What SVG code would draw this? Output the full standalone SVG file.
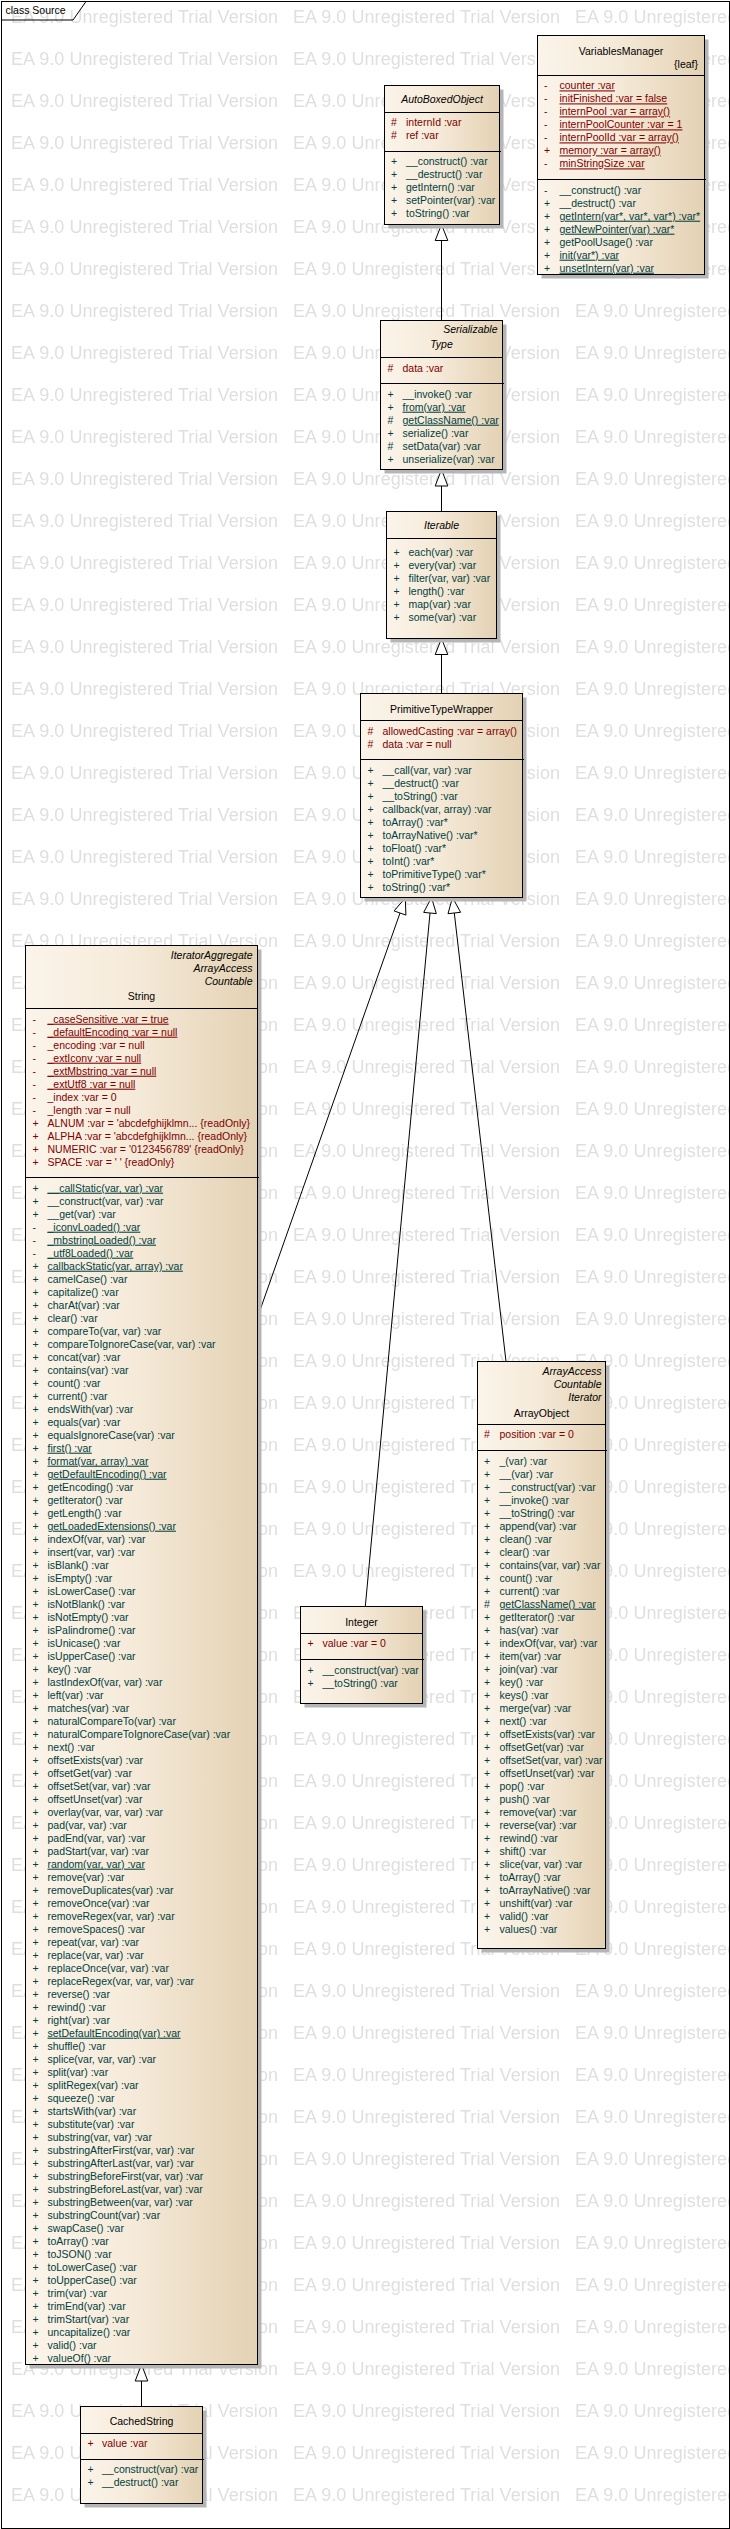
<svg xmlns="http://www.w3.org/2000/svg" width="730" height="2529" viewBox="0 0 730 2529">
<style>
text{font-family:"Liberation Sans",Arial,sans-serif;font-size:10.5px;white-space:pre}
.wm{font-size:18px;fill:#dfdfdf}
.box{fill:url(#cg);stroke:#000;stroke-width:1}
.sh{fill:#b5b5b5}
.dv{stroke:#000;stroke-width:1;fill:none}
.t{fill:#000;text-anchor:middle}
.ti{fill:#000;text-anchor:middle;font-style:italic}
.st{fill:#000;text-anchor:end;font-style:italic}
.lf{fill:#000;text-anchor:end}
.a{fill:#800000}
.o{fill:#004040}
.u{text-decoration:underline}
.ln{stroke:#000;stroke-width:1;fill:none}
.tri{fill:#fff;stroke:#000;stroke-width:1}
</style>
<defs>
<linearGradient id="cg" x1="0" y1="0" x2="1" y2="0">
<stop offset="0" stop-color="#fbf4ea"/>
<stop offset="0.45" stop-color="#f6ebda"/>
<stop offset="1" stop-color="#e3d1b3"/>
</linearGradient>
<pattern id="wmp" patternUnits="userSpaceOnUse" x="0" y="0" width="282" height="42">
<text class="wm" x="11" y="22.5" textLength="267">EA 9.0 Unregistered Trial Version</text>
</pattern>
</defs>
<rect width="730" height="2529" fill="#fff"/>
<rect width="730" height="2529" fill="url(#wmp)"/>

<g id="frame">
<rect x="1.5" y="1.5" width="728" height="2527" class="dv"/>
<polyline points="1.5,20 73,20 86,1.5" class="dv"/>
<text x="5.5" y="14" fill="#000">class Source</text>
</g>

<g id="connectors">
<line x1="441.5" y1="240.5" x2="441.5" y2="320.5" class="ln"/>
<polygon points="441.5,224.5 447.8,240.5 435.2,240.5" class="tri"/>
<line x1="441.5" y1="486" x2="441.5" y2="511.5" class="ln"/>
<polygon points="441.5,469.5 447.8,486 435.2,486" class="tri"/>
<line x1="441.5" y1="654.5" x2="441.5" y2="693.5" class="ln"/>
<polygon points="441.5,638.5 447.8,654.5 435.2,654.5" class="tri"/>
<line x1="400" y1="913" x2="257.5" y2="1317.4" class="ln"/>
<polygon points="405.3,897.9 405.9,915.1 394.1,910.9" class="tri"/>
<line x1="430" y1="913" x2="365.3" y2="1606.5" class="ln"/>
<polygon points="431.5,897.5 436.3,913.6 423.7,912.4" class="tri"/>
<line x1="454.3" y1="913" x2="506" y2="1361.5" class="ln"/>
<polygon points="452.5,897.5 460.6,912.3 448,913.7" class="tri"/>
<line x1="141.5" y1="2381" x2="141.5" y2="2406.5" class="ln"/>
<polygon points="141.5,2364.5 147.8,2381 135.2,2381" class="tri"/>
</g>

<g id="VariablesManager">
<rect x="541.5" y="39.5" width="167" height="239" class="sh"/>
<rect x="537.5" y="35.5" width="167" height="239" class="box"/>
<line x1="537.5" y1="75.5" x2="704.5" y2="75.5" class="dv"/>
<line x1="537.5" y1="179.5" x2="706" y2="179.5" class="dv"/>
<text class="t" x="621" y="54.5">VariablesManager</text>
<text class="lf" x="698" y="67.5">{leaf}</text>
<text class="a" y="89.4"><tspan x="544">-</tspan><tspan x="559.5" class="u">counter :var</tspan></text>
<text class="a" y="102.4"><tspan x="544">-</tspan><tspan x="559.5" class="u">initFinished :var = false</tspan></text>
<text class="a" y="115.4"><tspan x="544">-</tspan><tspan x="559.5" class="u">internPool :var = array()</tspan></text>
<text class="a" y="128.4"><tspan x="544">-</tspan><tspan x="559.5" class="u">internPoolCounter :var = 1</tspan></text>
<text class="a" y="141.4"><tspan x="544">-</tspan><tspan x="559.5" class="u">internPoolId :var = array()</tspan></text>
<text class="a" y="154.4"><tspan x="544">+</tspan><tspan x="559.5" class="u">memory :var = array()</tspan></text>
<text class="a" y="167.4"><tspan x="544">-</tspan><tspan x="559.5" class="u">minStringSize :var</tspan></text>
<text class="o" y="193.7"><tspan x="544">-</tspan><tspan x="559.5">__construct() :var</tspan></text>
<text class="o" y="206.7"><tspan x="544">+</tspan><tspan x="559.5">__destruct() :var</tspan></text>
<text class="o" y="219.7"><tspan x="544">+</tspan><tspan x="559.5" class="u">getIntern(var*, var*, var*) :var*</tspan></text>
<text class="o" y="232.7"><tspan x="544">+</tspan><tspan x="559.5" class="u">getNewPointer(var) :var*</tspan></text>
<text class="o" y="245.7"><tspan x="544">+</tspan><tspan x="559.5">getPoolUsage() :var</tspan></text>
<text class="o" y="258.7"><tspan x="544">+</tspan><tspan x="559.5" class="u">init(var*) :var</tspan></text>
<text class="o" y="271.7"><tspan x="544">+</tspan><tspan x="559.5" class="u">unsetIntern(var) :var</tspan></text>
</g>

<g id="AutoBoxedObject">
<rect x="388.5" y="89.5" width="115" height="139" class="sh"/>
<rect x="384.5" y="85.5" width="115" height="139" class="box"/>
<line x1="384.5" y1="112.5" x2="499.5" y2="112.5" class="dv"/>
<line x1="384.5" y1="151.5" x2="501" y2="151.5" class="dv"/>
<text class="ti" x="442" y="103">AutoBoxedObject</text>
<text class="a" y="126.4"><tspan x="391">#</tspan><tspan x="406">internId :var</tspan></text>
<text class="a" y="139.4"><tspan x="391">#</tspan><tspan x="406">ref :var</tspan></text>
<text class="o" y="165.4"><tspan x="391">+</tspan><tspan x="406">__construct() :var</tspan></text>
<text class="o" y="178.4"><tspan x="391">+</tspan><tspan x="406">__destruct() :var</tspan></text>
<text class="o" y="191.4"><tspan x="391">+</tspan><tspan x="406">getIntern() :var</tspan></text>
<text class="o" y="204.4"><tspan x="391">+</tspan><tspan x="406">setPointer(var) :var</tspan></text>
<text class="o" y="217.4"><tspan x="391">+</tspan><tspan x="406">toString() :var</tspan></text>
</g>

<g id="Type">
<rect x="384.5" y="324.5" width="122" height="149" class="sh"/>
<rect x="380.5" y="320.5" width="122" height="149" class="box"/>
<line x1="380.5" y1="357.5" x2="502.5" y2="357.5" class="dv"/>
<line x1="380.5" y1="383.5" x2="504" y2="383.5" class="dv"/>
<text class="st" x="497.5" y="333.4">Serializable</text>
<text class="ti" x="441.5" y="348.4">Type</text>
<text class="a" y="371.7"><tspan x="387.5">#</tspan><tspan x="402.5">data :var</tspan></text>
<text class="o" y="397.7"><tspan x="387.5">+</tspan><tspan x="402.5">__invoke() :var</tspan></text>
<text class="o" y="410.7"><tspan x="387.5">+</tspan><tspan x="402.5" class="u">from(var) :var</tspan></text>
<text class="o" y="423.7"><tspan x="387.5">#</tspan><tspan x="402.5" class="u">getClassName() :var</tspan></text>
<text class="o" y="436.7"><tspan x="387.5">+</tspan><tspan x="402.5">serialize() :var</tspan></text>
<text class="o" y="449.7"><tspan x="387.5">#</tspan><tspan x="402.5">setData(var) :var</tspan></text>
<text class="o" y="462.7"><tspan x="387.5">+</tspan><tspan x="402.5">unserialize(var) :var</tspan></text>
</g>

<g id="Iterable">
<rect x="390.5" y="515.5" width="110" height="127" class="sh"/>
<rect x="386.5" y="511.5" width="110" height="127" class="box"/>
<line x1="386.5" y1="538.5" x2="496.5" y2="538.5" class="dv"/>
<text class="ti" x="441.5" y="529.4">Iterable</text>
<text class="o" y="556.4"><tspan x="393.5">+</tspan><tspan x="408.5">each(var) :var</tspan></text>
<text class="o" y="569.4"><tspan x="393.5">+</tspan><tspan x="408.5">every(var) :var</tspan></text>
<text class="o" y="582.4"><tspan x="393.5">+</tspan><tspan x="408.5">filter(var, var) :var</tspan></text>
<text class="o" y="595.4"><tspan x="393.5">+</tspan><tspan x="408.5">length() :var</tspan></text>
<text class="o" y="608.4"><tspan x="393.5">+</tspan><tspan x="408.5">map(var) :var</tspan></text>
<text class="o" y="621.4"><tspan x="393.5">+</tspan><tspan x="408.5">some(var) :var</tspan></text>
</g>

<g id="PrimitiveTypeWrapper">
<rect x="364.5" y="697.5" width="162" height="204" class="sh"/>
<rect x="360.5" y="693.5" width="162" height="204" class="box"/>
<line x1="360.5" y1="720.5" x2="522.5" y2="720.5" class="dv"/>
<line x1="360.5" y1="759.5" x2="524" y2="759.5" class="dv"/>
<text class="t" x="441.5" y="712.7">PrimitiveTypeWrapper</text>
<text class="a" y="734.7"><tspan x="367.5">#</tspan><tspan x="382.5">allowedCasting :var = array()</tspan></text>
<text class="a" y="747.7"><tspan x="367.5">#</tspan><tspan x="382.5">data :var = null</tspan></text>
<text class="o" y="773.7"><tspan x="367.5">+</tspan><tspan x="382.5">__call(var, var) :var</tspan></text>
<text class="o" y="786.7"><tspan x="367.5">+</tspan><tspan x="382.5">__destruct() :var</tspan></text>
<text class="o" y="799.7"><tspan x="367.5">+</tspan><tspan x="382.5">__toString() :var</tspan></text>
<text class="o" y="812.7"><tspan x="367.5">+</tspan><tspan x="382.5">callback(var, array) :var</tspan></text>
<text class="o" y="825.7"><tspan x="367.5">+</tspan><tspan x="382.5">toArray() :var*</tspan></text>
<text class="o" y="838.7"><tspan x="367.5">+</tspan><tspan x="382.5">toArrayNative() :var*</tspan></text>
<text class="o" y="851.7"><tspan x="367.5">+</tspan><tspan x="382.5">toFloat() :var*</tspan></text>
<text class="o" y="864.7"><tspan x="367.5">+</tspan><tspan x="382.5">toInt() :var*</tspan></text>
<text class="o" y="877.7"><tspan x="367.5">+</tspan><tspan x="382.5">toPrimitiveType() :var*</tspan></text>
<text class="o" y="890.7"><tspan x="367.5">+</tspan><tspan x="382.5">toString() :var*</tspan></text>
</g>

<g id="String">
<rect x="29.5" y="949.5" width="232" height="1419" class="sh"/>
<rect x="25.5" y="945.5" width="232" height="1419" class="box"/>
<line x1="25.5" y1="1008.5" x2="257.5" y2="1008.5" class="dv"/>
<line x1="25.5" y1="1177.5" x2="259" y2="1177.5" class="dv"/>
<text class="st" x="252.5" y="958.7">IteratorAggregate</text>
<text class="st" x="252.5" y="971.7">ArrayAccess</text>
<text class="st" x="252.5" y="984.7">Countable</text>
<text class="t" x="141.5" y="1000.4">String</text>
<text class="a" y="1022.7"><tspan x="32.5">-</tspan><tspan x="47.5" class="u">_caseSensitive :var = true</tspan></text>
<text class="a" y="1035.7"><tspan x="32.5">-</tspan><tspan x="47.5" class="u">_defaultEncoding :var = null</tspan></text>
<text class="a" y="1048.7"><tspan x="32.5">-</tspan><tspan x="47.5">_encoding :var = null</tspan></text>
<text class="a" y="1061.7"><tspan x="32.5">-</tspan><tspan x="47.5" class="u">_extIconv :var = null</tspan></text>
<text class="a" y="1074.7"><tspan x="32.5">-</tspan><tspan x="47.5" class="u">_extMbstring :var = null</tspan></text>
<text class="a" y="1087.7"><tspan x="32.5">-</tspan><tspan x="47.5" class="u">_extUtf8 :var = null</tspan></text>
<text class="a" y="1100.7"><tspan x="32.5">-</tspan><tspan x="47.5">_index :var = 0</tspan></text>
<text class="a" y="1113.7"><tspan x="32.5">-</tspan><tspan x="47.5">_length :var = null</tspan></text>
<text class="a" y="1126.7"><tspan x="32.5">+</tspan><tspan x="47.5">ALNUM :var = 'abcdefghijklmn... {readOnly}</tspan></text>
<text class="a" y="1139.7"><tspan x="32.5">+</tspan><tspan x="47.5">ALPHA :var = 'abcdefghijklmn... {readOnly}</tspan></text>
<text class="a" y="1152.7"><tspan x="32.5">+</tspan><tspan x="47.5">NUMERIC :var = '0123456789' {readOnly}</tspan></text>
<text class="a" y="1165.7"><tspan x="32.5">+</tspan><tspan x="47.5">SPACE :var = ' ' {readOnly}</tspan></text>
<text class="o" y="1191.7"><tspan x="32.5">+</tspan><tspan x="47.5" class="u">__callStatic(var, var) :var</tspan></text>
<text class="o" y="1204.7"><tspan x="32.5">+</tspan><tspan x="47.5">__construct(var, var) :var</tspan></text>
<text class="o" y="1217.7"><tspan x="32.5">+</tspan><tspan x="47.5">__get(var) :var</tspan></text>
<text class="o" y="1230.7"><tspan x="32.5">-</tspan><tspan x="47.5" class="u">_iconvLoaded() :var</tspan></text>
<text class="o" y="1243.7"><tspan x="32.5">-</tspan><tspan x="47.5" class="u">_mbstringLoaded() :var</tspan></text>
<text class="o" y="1256.7"><tspan x="32.5">-</tspan><tspan x="47.5" class="u">_utf8Loaded() :var</tspan></text>
<text class="o" y="1269.7"><tspan x="32.5">+</tspan><tspan x="47.5" class="u">callbackStatic(var, array) :var</tspan></text>
<text class="o" y="1282.7"><tspan x="32.5">+</tspan><tspan x="47.5">camelCase() :var</tspan></text>
<text class="o" y="1295.7"><tspan x="32.5">+</tspan><tspan x="47.5">capitalize() :var</tspan></text>
<text class="o" y="1308.7"><tspan x="32.5">+</tspan><tspan x="47.5">charAt(var) :var</tspan></text>
<text class="o" y="1321.7"><tspan x="32.5">+</tspan><tspan x="47.5">clear() :var</tspan></text>
<text class="o" y="1334.7"><tspan x="32.5">+</tspan><tspan x="47.5">compareTo(var, var) :var</tspan></text>
<text class="o" y="1347.7"><tspan x="32.5">+</tspan><tspan x="47.5">compareToIgnoreCase(var, var) :var</tspan></text>
<text class="o" y="1360.7"><tspan x="32.5">+</tspan><tspan x="47.5">concat(var) :var</tspan></text>
<text class="o" y="1373.7"><tspan x="32.5">+</tspan><tspan x="47.5">contains(var) :var</tspan></text>
<text class="o" y="1386.7"><tspan x="32.5">+</tspan><tspan x="47.5">count() :var</tspan></text>
<text class="o" y="1399.7"><tspan x="32.5">+</tspan><tspan x="47.5">current() :var</tspan></text>
<text class="o" y="1412.7"><tspan x="32.5">+</tspan><tspan x="47.5">endsWith(var) :var</tspan></text>
<text class="o" y="1425.7"><tspan x="32.5">+</tspan><tspan x="47.5">equals(var) :var</tspan></text>
<text class="o" y="1438.7"><tspan x="32.5">+</tspan><tspan x="47.5">equalsIgnoreCase(var) :var</tspan></text>
<text class="o" y="1451.7"><tspan x="32.5">+</tspan><tspan x="47.5" class="u">first() :var</tspan></text>
<text class="o" y="1464.7"><tspan x="32.5">+</tspan><tspan x="47.5" class="u">format(var, array) :var</tspan></text>
<text class="o" y="1477.7"><tspan x="32.5">+</tspan><tspan x="47.5" class="u">getDefaultEncoding() :var</tspan></text>
<text class="o" y="1490.7"><tspan x="32.5">+</tspan><tspan x="47.5">getEncoding() :var</tspan></text>
<text class="o" y="1503.7"><tspan x="32.5">+</tspan><tspan x="47.5">getIterator() :var</tspan></text>
<text class="o" y="1516.7"><tspan x="32.5">+</tspan><tspan x="47.5">getLength() :var</tspan></text>
<text class="o" y="1529.7"><tspan x="32.5">+</tspan><tspan x="47.5" class="u">getLoadedExtensions() :var</tspan></text>
<text class="o" y="1542.7"><tspan x="32.5">+</tspan><tspan x="47.5">indexOf(var, var) :var</tspan></text>
<text class="o" y="1555.7"><tspan x="32.5">+</tspan><tspan x="47.5">insert(var, var) :var</tspan></text>
<text class="o" y="1568.7"><tspan x="32.5">+</tspan><tspan x="47.5">isBlank() :var</tspan></text>
<text class="o" y="1581.7"><tspan x="32.5">+</tspan><tspan x="47.5">isEmpty() :var</tspan></text>
<text class="o" y="1594.7"><tspan x="32.5">+</tspan><tspan x="47.5">isLowerCase() :var</tspan></text>
<text class="o" y="1607.7"><tspan x="32.5">+</tspan><tspan x="47.5">isNotBlank() :var</tspan></text>
<text class="o" y="1620.7"><tspan x="32.5">+</tspan><tspan x="47.5">isNotEmpty() :var</tspan></text>
<text class="o" y="1633.7"><tspan x="32.5">+</tspan><tspan x="47.5">isPalindrome() :var</tspan></text>
<text class="o" y="1646.7"><tspan x="32.5">+</tspan><tspan x="47.5">isUnicase() :var</tspan></text>
<text class="o" y="1659.7"><tspan x="32.5">+</tspan><tspan x="47.5">isUpperCase() :var</tspan></text>
<text class="o" y="1672.7"><tspan x="32.5">+</tspan><tspan x="47.5">key() :var</tspan></text>
<text class="o" y="1685.7"><tspan x="32.5">+</tspan><tspan x="47.5">lastIndexOf(var, var) :var</tspan></text>
<text class="o" y="1698.7"><tspan x="32.5">+</tspan><tspan x="47.5">left(var) :var</tspan></text>
<text class="o" y="1711.7"><tspan x="32.5">+</tspan><tspan x="47.5">matches(var) :var</tspan></text>
<text class="o" y="1724.7"><tspan x="32.5">+</tspan><tspan x="47.5">naturalCompareTo(var) :var</tspan></text>
<text class="o" y="1737.7"><tspan x="32.5">+</tspan><tspan x="47.5">naturalCompareToIgnoreCase(var) :var</tspan></text>
<text class="o" y="1750.7"><tspan x="32.5">+</tspan><tspan x="47.5">next() :var</tspan></text>
<text class="o" y="1763.7"><tspan x="32.5">+</tspan><tspan x="47.5">offsetExists(var) :var</tspan></text>
<text class="o" y="1776.7"><tspan x="32.5">+</tspan><tspan x="47.5">offsetGet(var) :var</tspan></text>
<text class="o" y="1789.7"><tspan x="32.5">+</tspan><tspan x="47.5">offsetSet(var, var) :var</tspan></text>
<text class="o" y="1802.7"><tspan x="32.5">+</tspan><tspan x="47.5">offsetUnset(var) :var</tspan></text>
<text class="o" y="1815.7"><tspan x="32.5">+</tspan><tspan x="47.5">overlay(var, var, var) :var</tspan></text>
<text class="o" y="1828.7"><tspan x="32.5">+</tspan><tspan x="47.5">pad(var, var) :var</tspan></text>
<text class="o" y="1841.7"><tspan x="32.5">+</tspan><tspan x="47.5">padEnd(var, var) :var</tspan></text>
<text class="o" y="1854.7"><tspan x="32.5">+</tspan><tspan x="47.5">padStart(var, var) :var</tspan></text>
<text class="o" y="1867.7"><tspan x="32.5">+</tspan><tspan x="47.5" class="u">random(var, var) :var</tspan></text>
<text class="o" y="1880.7"><tspan x="32.5">+</tspan><tspan x="47.5">remove(var) :var</tspan></text>
<text class="o" y="1893.7"><tspan x="32.5">+</tspan><tspan x="47.5">removeDuplicates(var) :var</tspan></text>
<text class="o" y="1906.7"><tspan x="32.5">+</tspan><tspan x="47.5">removeOnce(var) :var</tspan></text>
<text class="o" y="1919.7"><tspan x="32.5">+</tspan><tspan x="47.5">removeRegex(var, var) :var</tspan></text>
<text class="o" y="1932.7"><tspan x="32.5">+</tspan><tspan x="47.5">removeSpaces() :var</tspan></text>
<text class="o" y="1945.7"><tspan x="32.5">+</tspan><tspan x="47.5">repeat(var, var) :var</tspan></text>
<text class="o" y="1958.7"><tspan x="32.5">+</tspan><tspan x="47.5">replace(var, var) :var</tspan></text>
<text class="o" y="1971.7"><tspan x="32.5">+</tspan><tspan x="47.5">replaceOnce(var, var) :var</tspan></text>
<text class="o" y="1984.7"><tspan x="32.5">+</tspan><tspan x="47.5">replaceRegex(var, var, var) :var</tspan></text>
<text class="o" y="1997.7"><tspan x="32.5">+</tspan><tspan x="47.5">reverse() :var</tspan></text>
<text class="o" y="2010.7"><tspan x="32.5">+</tspan><tspan x="47.5">rewind() :var</tspan></text>
<text class="o" y="2023.7"><tspan x="32.5">+</tspan><tspan x="47.5">right(var) :var</tspan></text>
<text class="o" y="2036.7"><tspan x="32.5">+</tspan><tspan x="47.5" class="u">setDefaultEncoding(var) :var</tspan></text>
<text class="o" y="2049.7"><tspan x="32.5">+</tspan><tspan x="47.5">shuffle() :var</tspan></text>
<text class="o" y="2062.7"><tspan x="32.5">+</tspan><tspan x="47.5">splice(var, var, var) :var</tspan></text>
<text class="o" y="2075.7"><tspan x="32.5">+</tspan><tspan x="47.5">split(var) :var</tspan></text>
<text class="o" y="2088.7"><tspan x="32.5">+</tspan><tspan x="47.5">splitRegex(var) :var</tspan></text>
<text class="o" y="2101.7"><tspan x="32.5">+</tspan><tspan x="47.5">squeeze() :var</tspan></text>
<text class="o" y="2114.7"><tspan x="32.5">+</tspan><tspan x="47.5">startsWith(var) :var</tspan></text>
<text class="o" y="2127.7"><tspan x="32.5">+</tspan><tspan x="47.5">substitute(var) :var</tspan></text>
<text class="o" y="2140.7"><tspan x="32.5">+</tspan><tspan x="47.5">substring(var, var) :var</tspan></text>
<text class="o" y="2153.7"><tspan x="32.5">+</tspan><tspan x="47.5">substringAfterFirst(var, var) :var</tspan></text>
<text class="o" y="2166.7"><tspan x="32.5">+</tspan><tspan x="47.5">substringAfterLast(var, var) :var</tspan></text>
<text class="o" y="2179.7"><tspan x="32.5">+</tspan><tspan x="47.5">substringBeforeFirst(var, var) :var</tspan></text>
<text class="o" y="2192.7"><tspan x="32.5">+</tspan><tspan x="47.5">substringBeforeLast(var, var) :var</tspan></text>
<text class="o" y="2205.7"><tspan x="32.5">+</tspan><tspan x="47.5">substringBetween(var, var) :var</tspan></text>
<text class="o" y="2218.7"><tspan x="32.5">+</tspan><tspan x="47.5">substringCount(var) :var</tspan></text>
<text class="o" y="2231.7"><tspan x="32.5">+</tspan><tspan x="47.5">swapCase() :var</tspan></text>
<text class="o" y="2244.7"><tspan x="32.5">+</tspan><tspan x="47.5">toArray() :var</tspan></text>
<text class="o" y="2257.7"><tspan x="32.5">+</tspan><tspan x="47.5">toJSON() :var</tspan></text>
<text class="o" y="2270.7"><tspan x="32.5">+</tspan><tspan x="47.5">toLowerCase() :var</tspan></text>
<text class="o" y="2283.7"><tspan x="32.5">+</tspan><tspan x="47.5">toUpperCase() :var</tspan></text>
<text class="o" y="2296.7"><tspan x="32.5">+</tspan><tspan x="47.5">trim(var) :var</tspan></text>
<text class="o" y="2309.7"><tspan x="32.5">+</tspan><tspan x="47.5">trimEnd(var) :var</tspan></text>
<text class="o" y="2322.7"><tspan x="32.5">+</tspan><tspan x="47.5">trimStart(var) :var</tspan></text>
<text class="o" y="2335.7"><tspan x="32.5">+</tspan><tspan x="47.5">uncapitalize() :var</tspan></text>
<text class="o" y="2348.7"><tspan x="32.5">+</tspan><tspan x="47.5">valid() :var</tspan></text>
<text class="o" y="2361.7"><tspan x="32.5">+</tspan><tspan x="47.5">valueOf() :var</tspan></text>
</g>

<g id="Integer">
<rect x="304.5" y="1610.5" width="122" height="97" class="sh"/>
<rect x="300.5" y="1606.5" width="122" height="97" class="box"/>
<line x1="300.5" y1="1633.5" x2="422.5" y2="1633.5" class="dv"/>
<line x1="300.5" y1="1659.5" x2="424" y2="1659.5" class="dv"/>
<text class="t" x="361.5" y="1625.7">Integer</text>
<text class="a" y="1647"><tspan x="307.5">+</tspan><tspan x="322.5">value :var = 0</tspan></text>
<text class="o" y="1673.7"><tspan x="307.5">+</tspan><tspan x="322.5">__construct(var) :var</tspan></text>
<text class="o" y="1686.7"><tspan x="307.5">+</tspan><tspan x="322.5">__toString() :var</tspan></text>
</g>

<g id="ArrayObject">
<rect x="481.5" y="1365.5" width="128" height="587" class="sh"/>
<rect x="477.5" y="1361.5" width="128" height="587" class="box"/>
<line x1="477.5" y1="1424.5" x2="605.5" y2="1424.5" class="dv"/>
<line x1="477.5" y1="1450.5" x2="607" y2="1450.5" class="dv"/>
<text class="st" x="601.5" y="1375">ArrayAccess</text>
<text class="st" x="601.5" y="1388">Countable</text>
<text class="st" x="601.5" y="1401">Iterator</text>
<text class="t" x="541.5" y="1416.5">ArrayObject</text>
<text class="a" y="1438.4"><tspan x="484">#</tspan><tspan x="499.5">position :var = 0</tspan></text>
<text class="o" y="1464.7"><tspan x="484">+</tspan><tspan x="499.5">_(var) :var</tspan></text>
<text class="o" y="1477.7"><tspan x="484">+</tspan><tspan x="499.5">__(var) :var</tspan></text>
<text class="o" y="1490.7"><tspan x="484">+</tspan><tspan x="499.5">__construct(var) :var</tspan></text>
<text class="o" y="1503.7"><tspan x="484">+</tspan><tspan x="499.5">__invoke() :var</tspan></text>
<text class="o" y="1516.7"><tspan x="484">+</tspan><tspan x="499.5">__toString() :var</tspan></text>
<text class="o" y="1529.7"><tspan x="484">+</tspan><tspan x="499.5">append(var) :var</tspan></text>
<text class="o" y="1542.7"><tspan x="484">+</tspan><tspan x="499.5">clean() :var</tspan></text>
<text class="o" y="1555.7"><tspan x="484">+</tspan><tspan x="499.5">clear() :var</tspan></text>
<text class="o" y="1568.7"><tspan x="484">+</tspan><tspan x="499.5">contains(var, var) :var</tspan></text>
<text class="o" y="1581.7"><tspan x="484">+</tspan><tspan x="499.5">count() :var</tspan></text>
<text class="o" y="1594.7"><tspan x="484">+</tspan><tspan x="499.5">current() :var</tspan></text>
<text class="o" y="1607.7"><tspan x="484">#</tspan><tspan x="499.5" class="u">getClassName() :var</tspan></text>
<text class="o" y="1620.7"><tspan x="484">+</tspan><tspan x="499.5">getIterator() :var</tspan></text>
<text class="o" y="1633.7"><tspan x="484">+</tspan><tspan x="499.5">has(var) :var</tspan></text>
<text class="o" y="1646.7"><tspan x="484">+</tspan><tspan x="499.5">indexOf(var, var) :var</tspan></text>
<text class="o" y="1659.7"><tspan x="484">+</tspan><tspan x="499.5">item(var) :var</tspan></text>
<text class="o" y="1672.7"><tspan x="484">+</tspan><tspan x="499.5">join(var) :var</tspan></text>
<text class="o" y="1685.7"><tspan x="484">+</tspan><tspan x="499.5">key() :var</tspan></text>
<text class="o" y="1698.7"><tspan x="484">+</tspan><tspan x="499.5">keys() :var</tspan></text>
<text class="o" y="1711.7"><tspan x="484">+</tspan><tspan x="499.5">merge(var) :var</tspan></text>
<text class="o" y="1724.7"><tspan x="484">+</tspan><tspan x="499.5">next() :var</tspan></text>
<text class="o" y="1737.7"><tspan x="484">+</tspan><tspan x="499.5">offsetExists(var) :var</tspan></text>
<text class="o" y="1750.7"><tspan x="484">+</tspan><tspan x="499.5">offsetGet(var) :var</tspan></text>
<text class="o" y="1763.7"><tspan x="484">+</tspan><tspan x="499.5">offsetSet(var, var) :var</tspan></text>
<text class="o" y="1776.7"><tspan x="484">+</tspan><tspan x="499.5">offsetUnset(var) :var</tspan></text>
<text class="o" y="1789.7"><tspan x="484">+</tspan><tspan x="499.5">pop() :var</tspan></text>
<text class="o" y="1802.7"><tspan x="484">+</tspan><tspan x="499.5">push() :var</tspan></text>
<text class="o" y="1815.7"><tspan x="484">+</tspan><tspan x="499.5">remove(var) :var</tspan></text>
<text class="o" y="1828.7"><tspan x="484">+</tspan><tspan x="499.5">reverse(var) :var</tspan></text>
<text class="o" y="1841.7"><tspan x="484">+</tspan><tspan x="499.5">rewind() :var</tspan></text>
<text class="o" y="1854.7"><tspan x="484">+</tspan><tspan x="499.5">shift() :var</tspan></text>
<text class="o" y="1867.7"><tspan x="484">+</tspan><tspan x="499.5">slice(var, var) :var</tspan></text>
<text class="o" y="1880.7"><tspan x="484">+</tspan><tspan x="499.5">toArray() :var</tspan></text>
<text class="o" y="1893.7"><tspan x="484">+</tspan><tspan x="499.5">toArrayNative() :var</tspan></text>
<text class="o" y="1906.7"><tspan x="484">+</tspan><tspan x="499.5">unshift(var) :var</tspan></text>
<text class="o" y="1919.7"><tspan x="484">+</tspan><tspan x="499.5">valid() :var</tspan></text>
<text class="o" y="1932.7"><tspan x="484">+</tspan><tspan x="499.5">values() :var</tspan></text>
</g>

<g id="CachedString">
<rect x="84.5" y="2410.5" width="122" height="97" class="sh"/>
<rect x="80.5" y="2406.5" width="122" height="97" class="box"/>
<line x1="80.5" y1="2433.5" x2="202.5" y2="2433.5" class="dv"/>
<line x1="80.5" y1="2459.5" x2="204" y2="2459.5" class="dv"/>
<text class="t" x="141.5" y="2425.4">CachedString</text>
<text class="a" y="2447.4"><tspan x="87.5">+</tspan><tspan x="102">value :var</tspan></text>
<text class="o" y="2473.4"><tspan x="87.5">+</tspan><tspan x="102">__construct(var) :var</tspan></text>
<text class="o" y="2486.4"><tspan x="87.5">+</tspan><tspan x="102">__destruct() :var</tspan></text>
</g>
</svg>
